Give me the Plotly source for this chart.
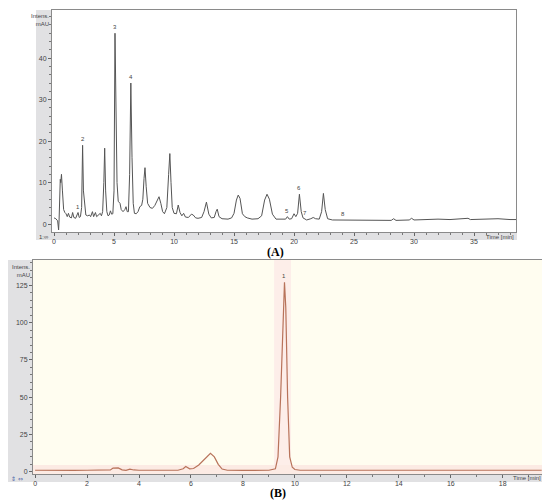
import plotly.graph_objects as go

# Chromatogram (A) (time in min, intensity in mAU)
time_a = [0.0, 0.15, 0.3, 0.38, 0.42, 0.48, 0.52, 0.56, 0.62, 0.7, 0.8, 0.9, 1.0, 1.1, 1.2, 1.3,
          1.45, 1.55, 1.65, 1.8, 1.95, 2.0, 2.1, 2.2, 2.3, 2.38, 2.45, 2.55, 2.65, 2.8, 2.95, 3.05,
          3.2, 3.3, 3.45, 3.55, 3.7, 3.85, 3.95, 4.05, 4.15, 4.22, 4.3, 4.4, 4.5, 4.6, 4.7, 4.8,
          4.9, 5.0, 5.08, 5.17, 5.25, 5.35, 5.5, 5.6, 5.75, 5.9, 6.0, 6.1, 6.2, 6.3, 6.4, 6.5,
          6.6, 6.7, 6.85, 7.0, 7.15, 7.3, 7.4, 7.5, 7.58, 7.68, 7.8, 8.0, 8.2, 8.4, 8.6, 8.75,
          8.9, 9.05, 9.2, 9.4, 9.55, 9.65, 9.75, 9.85, 10.0, 10.2, 10.35, 10.5, 10.65, 10.8, 10.95,
          11.2, 11.45, 11.6, 11.8, 12.0, 12.3, 12.5, 12.7, 12.9, 13.1, 13.35, 13.5, 13.6, 13.75,
          14.0, 14.5, 14.8, 15.0, 15.2, 15.35, 15.5, 15.7, 15.9, 16.1, 16.5, 17.0, 17.3, 17.55,
          17.75, 17.95, 18.2, 18.5, 19.0, 19.3, 19.45, 19.6, 19.8, 20.0, 20.15, 20.3, 20.45, 20.6,
          20.75, 20.9, 21.05, 21.4, 21.6, 21.8, 22.1, 22.3, 22.45, 22.6, 22.8, 23.2, 23.8, 24.05,
          24.3, 25.0, 27.0, 28.1, 28.3, 28.5, 29.6, 29.8, 30.0, 31.0, 32.0, 33.0, 34.0, 34.5,
          34.7, 35.5, 36.0, 37.0, 38.0, 38.5]
intens_a = [1.5, 1.3, 0.8, -1.4, 1.0, 10.5, 10.8, 10.0, 12.0, 8.0, 3.5, 2.8, 2.5, 1.8, 2.6, 1.7,
            1.5, 2.8, 1.6, 1.4, 2.6, 2.8, 1.6, 1.8, 4.0, 19.0, 8.0, 3.8, 2.2, 2.0, 2.2, 1.8,
            3.0, 1.8, 2.8, 1.8, 2.2, 2.6, 2.0, 3.0, 10.0, 18.3, 8.0, 3.0, 2.0, 2.2, 3.2, 2.4,
            2.5, 8.0, 46.0, 25.0, 10.0, 5.5, 5.0, 3.5, 3.0, 3.5, 4.2, 3.0, 3.0, 12.0, 34.0, 16.0,
            5.0, 2.6, 2.5, 3.0, 4.2, 4.5, 6.0, 11.0, 13.6, 9.0, 5.0, 4.0, 3.8, 4.5, 5.5, 6.6,
            5.0, 3.0, 2.5, 4.0, 12.0, 17.0, 10.0, 4.0, 2.6, 2.5, 4.6, 2.8, 2.0, 2.6, 1.7,
            1.6, 2.4, 2.2, 1.5, 1.4, 1.6, 3.0, 5.3, 2.4, 1.5, 1.6, 3.0, 3.6, 1.8,
            1.3, 1.2, 1.5, 2.6, 5.8, 7.0, 6.2, 2.5, 1.8, 1.5, 1.2, 1.3, 2.0, 5.8,
            7.2, 6.0, 2.4, 1.2, 1.1, 1.2, 1.8, 1.2, 1.3, 2.5, 1.8, 2.6, 7.2, 3.0,
            1.5, 1.3, 1.0, 1.3, 1.6, 1.3, 1.2, 3.0, 7.4, 3.5, 1.3, 1.0, 1.0, 0.9,
            0.9, 0.9, 0.9, 0.9, 1.3, 0.9, 1.0, 1.4, 1.0, 1.1, 1.2, 1.1, 1.2, 1.4,
            1.1, 1.2, 1.3, 1.3, 1.1, 1.1]
peak_ids_a = ["1", "2", "3", "4", "5", "6", "7", "8"]
peak_t_a = [2.0, 2.38, 5.08, 6.4, 19.45, 20.45, 20.9, 24.05]
peak_h_a = [2.8, 19.0, 46.0, 34.0, 1.8, 7.2, 1.3, 0.9]

# Chromatogram (B)
time_b = [0.0, 0.5, 1.0, 1.5, 2.0, 2.5, 2.9, 3.0, 3.2, 3.35, 3.5, 3.65, 3.8, 4.0, 4.5, 4.7,
          4.9, 5.5, 5.7, 5.8, 5.95, 6.1, 6.3, 6.5, 6.75, 6.9, 7.05, 7.2, 7.4, 8.0, 8.5, 9.0,
          9.25, 9.35, 9.45, 9.55, 9.6, 9.65, 9.72, 9.8, 9.9, 10.0, 10.2, 11.0, 12.0, 12.4,
          12.7, 13.0, 14.0, 15.0, 15.3, 16.0, 18.0, 19.5]
intens_b = [1.0, 0.8, 1.0, 0.9, 1.0, 1.0, 1.2, 2.5, 2.6, 1.3, 1.0, 1.8, 1.2, 1.0, 1.0, 1.3,
            1.0, 1.0, 2.0, 3.5, 2.0, 2.2, 4.5, 8.0, 12.3, 10.0, 5.0, 1.8, 1.0, 0.9, 1.0, 1.0,
            2.0, 10.0, 50.0, 110.0, 127.0, 110.0, 50.0, 10.0, 3.0, 1.5, 1.0, 1.0, 1.0, 1.4,
            1.2, 1.0, 0.9, 1.3, 1.0, 1.0, 1.0, 1.0]
peak_ids_b = ["1"]
peak_t_b = [9.6]
peak_h_b = [127.0]

# the page body keeps its default 8px margin, so the figure is 8px smaller
# and reference pixel positions are shifted by 8
OFF = 8
W, H = 550 - OFF, 501 - OFF
def px(x):
    return (x - OFF) / W
def py(y):
    return 1 - (y - OFF) / H

fig = go.Figure()

fig.add_trace(go.Scatter(x=time_a, y=intens_a, mode="lines",
                         line=dict(color="#555555", width=1),
                         xaxis="x", yaxis="y", showlegend=False))
fig.add_trace(go.Scatter(x=time_b, y=intens_b, mode="lines",
                         line=dict(color="#b8735a", width=1.2),
                         xaxis="x2", yaxis="y2", showlegend=False))

tickfont = dict(family="Liberation Sans", size=7, color="#444444")
axis_common = dict(showline=True, linecolor="#8a8a8a", linewidth=1, mirror=True,
                   ticks="outside", ticklen=3, tickcolor="#666666", tickfont=tickfont,
                   showgrid=False, zeroline=False)

fig.update_layout(
    width=W, height=H,
    margin=dict(l=0, r=0, t=0, b=0),
    paper_bgcolor="white",
    plot_bgcolor="rgba(0,0,0,0)",
    xaxis=dict(domain=[px(52), px(516)], range=[-0.17, 38.5], anchor="y",
               tickvals=[0, 5, 10, 15, 20, 25, 30, 35],
               minor=dict(dtick=1, ticks="outside", ticklen=2, tickcolor="#777777"),
               **axis_common),
    yaxis=dict(domain=[py(232), py(10)], range=[-1.9, 51.6], anchor="x",
               tickvals=[0, 10, 20, 30, 40],
               minor=dict(dtick=2, ticks="outside", ticklen=2, tickcolor="#777777"),
               **axis_common),
    xaxis2=dict(domain=[px(33), px(543)], range=[-0.08, 19.55], anchor="y2",
                tickvals=[0, 2, 4, 6, 8, 10, 12, 14, 16, 18],
                minor=dict(dtick=1, ticks="outside", ticklen=2, tickcolor="#777777"),
                **axis_common),
    yaxis2=dict(domain=[py(474), py(260)], range=[-1.5, 142], anchor="x2",
                tickvals=[0, 25, 50, 75, 100, 125],
                minor=dict(dtick=5, ticks="outside", ticklen=2, tickcolor="#777777"),
                **axis_common),
)

gray = "#e1e1e3"
shapes = [
    # panel A grey frame strips
    dict(type="rect", xref="paper", yref="paper", x0=px(36), x1=px(52), y0=py(240), y1=py(10),
         fillcolor=gray, line_width=0, layer="below"),
    dict(type="rect", xref="paper", yref="paper", x0=px(36), x1=px(517), y0=py(240), y1=py(232),
         fillcolor=gray, line_width=0, layer="below"),
    # panel B cream background and strips
    dict(type="rect", xref="paper", yref="paper", x0=px(33), x1=px(543), y0=py(474), y1=py(260),
         fillcolor="#fffdf0", line_width=0, layer="below"),
    dict(type="rect", xref="paper", yref="paper", x0=px(8), x1=px(33), y0=py(482), y1=py(260),
         fillcolor=gray, line_width=0, layer="below"),
    dict(type="rect", xref="paper", yref="paper", x0=px(8), x1=px(544), y0=py(482), y1=py(474),
         fillcolor=gray, line_width=0, layer="below"),
    # integration shading in B
    dict(type="rect", xref="x2", yref="y2 domain", x0=9.2, x1=9.85, y0=0, y1=1,
         fillcolor="#fdeee9", line_width=0, layer="below"),
    dict(type="rect", xref="x2 domain", yref="y2", x0=0, x1=1, y0=-1.5, y1=4.5,
         fillcolor="#fcebe4", line_width=0, layer="below"),
]
fig.update_layout(shapes=shapes)

small = dict(family="Liberation Sans", size=6, color="#444444")
annotations = []
for lab, t, h in zip(peak_ids_a, peak_t_a, peak_h_a):
    annotations.append(dict(x=t, y=h, xref="x", yref="y", text=lab, showarrow=False,
                            yanchor="bottom", yshift=1, font=small))
for lab, t, h in zip(peak_ids_b, peak_t_b, peak_h_b):
    annotations.append(dict(x=t, y=h, xref="x2", yref="y2", text=lab, showarrow=False,
                            yanchor="bottom", yshift=1, font=small))

annotations += [
    dict(x=px(51), y=py(11), xref="paper", yref="paper", text="Intens.<br>mAU",
         showarrow=False, xanchor="right", yanchor="top", align="right", font=small),
    dict(x=px(32), y=py(262), xref="paper", yref="paper", text="Intens.<br>mAU",
         showarrow=False, xanchor="right", yanchor="top", align="right", font=small),
    dict(x=px(516), y=py(237), xref="paper", yref="paper", text="Time [min]",
         showarrow=False, xanchor="right", yanchor="middle", font=small),
    dict(x=px(543), y=py(478), xref="paper", yref="paper", text="Time [min]",
         showarrow=False, xanchor="right", yanchor="middle", font=small),
    dict(x=px(37), y=py(237), xref="paper", yref="paper", text="1:∞",
         showarrow=False, xanchor="left", yanchor="middle", font=small),
    dict(x=px(9), y=py(478), xref="paper", yref="paper", text="⇕ ⇔",
         showarrow=False, xanchor="left", yanchor="middle",
         font=dict(family="DejaVu Sans", size=6, color="#4a5fa8")),
    dict(x=px(275), y=py(252), xref="paper", yref="paper", text="<b>(A)</b>",
         showarrow=False, xanchor="center", yanchor="middle",
         font=dict(family="Liberation Serif", size=12, color="black")),
    dict(x=px(278), y=py(493), xref="paper", yref="paper", text="<b>(B)</b>",
         showarrow=False, xanchor="center", yanchor="middle",
         font=dict(family="Liberation Serif", size=12, color="black")),
]
fig.update_layout(annotations=annotations)

fig.write_html("out.html")
